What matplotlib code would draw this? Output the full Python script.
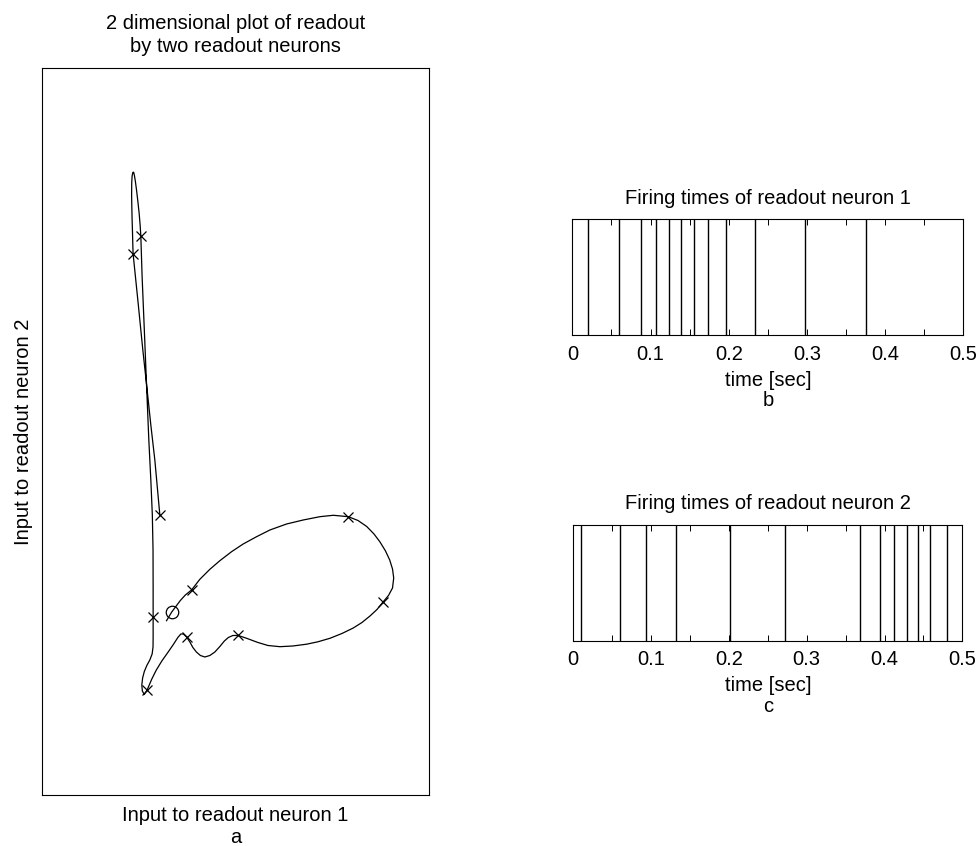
import matplotlib
matplotlib.use("Agg")
import matplotlib.pyplot as plt

plt.rcParams['font.family'] = ['Liberation Sans', 'DejaVu Sans']
plt.rcParams['font.size'] = 14.5

# trajectory of the two readout inputs (arbitrary units)
traj_x = [124.7, 129.7, 134, 138.5, 143.5, 149.7, 158, 168, 178, 189.7, 201.3, 214.7,
          228, 244.7, 261.3, 278, 291.3, 306.3, 316, 324.7, 332, 338, 343.5, 347.7,
          350.5, 351.7, 350.5, 346.5, 341.3, 335, 328, 320, 311.3, 300, 288, 276,
          264.7, 251, 238, 226, 216, 204.7, 196.3, 191, 186.5, 182.5, 178, 173,
          168, 163, 158.5, 154.5, 151, 148, 144.7, 141.5, 139, 136, 131.5, 126,
          120, 114.5, 110, 107, 105.3, 102.5, 100.5, 100, 100.8, 102.5, 105, 108,
          110.3, 111.2, 111.3, 111.3, 111.3, 111.3, 111.2, 110.5, 109, 107, 104.8, 102.5,
          100.3, 99, 98.3, 97.3, 96, 94.7, 93.5, 92.5, 91.8, 91, 90.3, 89.9,
          89.8, 90, 90.3, 90.7, 91, 91.3, 96, 101, 105, 109, 113, 118]
traj_y = [174.3, 182.7, 188.5, 194.5, 200, 205, 215.7, 225.7, 234.3, 243.3, 251, 258.3,
          265, 271, 275, 278.3, 279.7, 278.3, 274.5, 268.5, 261, 253, 244, 235,
          226, 217, 207, 199.5, 193.3, 185.5, 179, 172.5, 167, 161.5, 156.7, 153.2,
          150.8, 149, 148.3, 149.5, 152.5, 156.7, 159.5, 159.5, 157.5, 154, 148.5, 143,
          139.5, 138, 139.5, 143, 147.5, 153, 158, 161, 161, 157.5, 150.5, 142.5,
          134, 125, 116, 109, 105, 100.5, 104, 110, 117, 123.5, 129.5, 135,
          141, 148, 158, 168, 177.7, 205, 245, 280, 315, 355, 408, 465,
          518, 559, 570, 582, 594, 605, 614, 620, 622.8, 622.5, 619, 612,
          600, 588, 575, 562, 550, 541, 495, 445, 408, 370, 335, 280]

# points every 50 ms
mark_x = [149.7, 306.3, 341.3, 196.3, 144.7, 105.3, 111.3, 99, 91.3, 118]
mark_y = [205, 278.3, 193.3, 159.5, 158, 105, 177.7, 559, 541, 280]
start_x, start_y = 129.7, 182.7

spikes_1 = [0.0205, 0.060, 0.0875, 0.107, 0.123, 0.139, 0.156, 0.174, 0.196,
            0.233, 0.297, 0.376]
spikes_2 = [0.010, 0.060, 0.094, 0.132, 0.201, 0.272, 0.369, 0.394, 0.412,
            0.429, 0.443, 0.458, 0.480]
time_ticks = [0, 0.1, 0.2, 0.3, 0.4, 0.5]
time_labels = ['0', '0.1', '0.2', '0.3', '0.4', '0.5']
minor_ticks = [0.05, 0.15, 0.25, 0.35, 0.45]

fig = plt.figure(figsize=(9.8, 8.46), dpi=100)

ax = fig.add_axes([0.0426, 0.0603, 0.3955, 0.859])
ax.plot(traj_x, traj_y, color='black', lw=0.9)
ax.plot(mark_x, mark_y, 'x', color='black', ms=7, mew=0.9)
ax.plot([start_x], [start_y], 'o', mfc='none', mec='black', ms=9, mew=0.9)
ax.set_xlim(0, 387.3)
ax.set_ylim(0, 726.7)
ax.set_xticks([])
ax.set_yticks([])
ax.set_title('2 dimensional plot of readout\nby two readout neurons', fontsize=14.5,
             pad=12, linespacing=1.27)
ax.set_xlabel('Input to readout neuron 1\na', labelpad=8, linespacing=1.2)
ax.set_ylabel('Input to readout neuron 2', labelpad=6)

def raster(rect, spikes, title, letter):
    a = fig.add_axes(rect)
    a.vlines(spikes, 0, 1, color='black', lw=1.0)
    a.set_xlim(0, 0.5)
    a.set_ylim(0, 1)
    a.set_yticks([])
    a.set_xticks(time_ticks)
    a.set_xticklabels(time_labels)
    a.set_xticks(minor_ticks, minor=True)
    a.tick_params(axis='x', which='both', direction='in', top=True, length=4, width=0.7, pad=7)
    a.set_title(title, fontsize=14.5, pad=11)
    a.set_xlabel('time [sec]\n' + letter, labelpad=5, linespacing=1.1)
    return a

raster([0.584, 0.604, 0.399, 0.137], spikes_1, 'Firing times of readout neuron 1', 'b')
raster([0.585, 0.2427, 0.397, 0.137], spikes_2, 'Firing times of readout neuron 2', 'c')

fig.savefig('out.png', dpi=100)
